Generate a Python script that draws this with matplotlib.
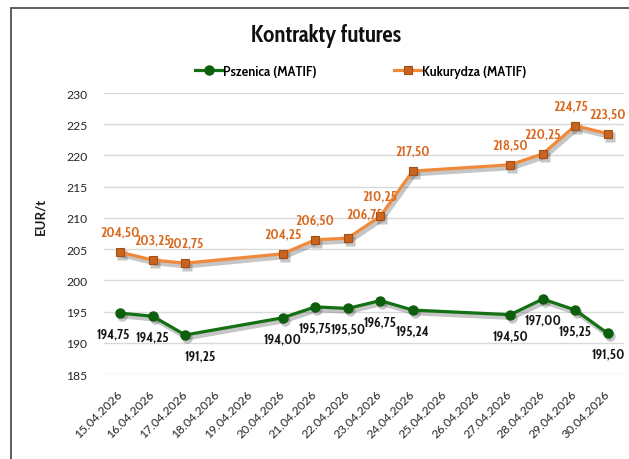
import datetime as dt
import matplotlib
matplotlib.use("Agg")
import matplotlib.pyplot as plt
import matplotlib.dates as mdates
import matplotlib.transforms as mtrans
from matplotlib.patches import Rectangle

plt.rcParams['font.family'] = ['Lato', 'DejaVu Sans']
COND = ['Cabin Condensed', 'Lato', 'DejaVu Sans']

title = "Kontrakty futures"
ylabel = "EUR/t"
series_names = ["Pszenica (MATIF)", "Kukurydza (MATIF)"]
dates = ["15.04.2026", "16.04.2026", "17.04.2026", "20.04.2026", "21.04.2026",
         "22.04.2026", "23.04.2026", "24.04.2026", "27.04.2026", "28.04.2026",
         "29.04.2026", "30.04.2026"]
pszenica = [194.75, 194.25, 191.25, 194.00, 195.75, 195.50, 196.75, 195.24,
            194.50, 197.00, 195.25, 191.50]
kukurydza = [204.50, 203.25, 202.75, 204.25, 206.50, 206.75, 210.25, 217.50,
             218.50, 220.25, 224.75, 223.50]
axis_start = "15.04.2026"
axis_end = "30.04.2026"
y_min, y_max, y_step = 185, 230, 5

def parse(s):
    return dt.datetime.strptime(s, "%d.%m.%Y")

x = [parse(d) for d in dates]
x0, x1 = parse(axis_start), parse(axis_end)

W, H = 629, 460
fig = plt.figure(figsize=(W / 100, H / 100), dpi=100)
ax = fig.add_axes([104 / W, 1 - 375 / H, (624 - 104) / W, (375 - 94) / H])

green = "#137113"
green_m = "#0d5e0d"
orange = "#f08a3a"
orange_m = "#c8641f"

sh = ax.transData + mtrans.ScaledTranslation(2 / 100, -3 / 100, fig.dpi_scale_trans)
for ys, mk in ((pszenica, "o"), (kukurydza, "s")):
    ax.plot(x, ys, color="#444444", alpha=0.3, lw=3.4, marker=mk, ms=7.5,
            mec="none", transform=sh, zorder=2)

l1, = ax.plot(x, pszenica, color=green, lw=2.3, marker="o", ms=6.5,
              mfc=green_m, mec=green_m, label=series_names[0], zorder=3)
l2, = ax.plot(x, kukurydza, color=orange, lw=2.3, marker="s", ms=6.3,
              mfc=orange_m, mec="#a34f14", mew=0.8, label=series_names[1], zorder=3)

px2pt = 72 / 100
p_dx = {0: -7, 2: 15}
for i, (xi, v) in enumerate(zip(x, pszenica)):
    ax.annotate(f"{v:.2f}".replace(".", ","), (xi, v),
                xytext=(p_dx.get(i, 0) * px2pt, -21 * px2pt), textcoords="offset points",
                ha="center", va="center", fontsize=10, fontweight="bold",
                family=COND, color="#141414", zorder=5)
k_dx = {5: 17, 10: -5}
k_dy = {5: 24}
for i, (xi, v) in enumerate(zip(x, kukurydza)):
    ax.annotate(f"{v:.2f}".replace(".", ","), (xi, v),
                xytext=(k_dx.get(i, 0) * px2pt, k_dy.get(i, 20) * px2pt),
                textcoords="offset points",
                ha="center", va="center", fontsize=10, fontweight="bold",
                family=COND, color="#d9691f", zorder=5)

ax.set_ylim(y_min, y_max)
ax.set_yticks(range(y_min, y_max + 1, y_step))
ax.set_xlim(x0 - dt.timedelta(hours=12), x1 + dt.timedelta(hours=12))
ax.xaxis.set_major_locator(mdates.DayLocator())
ax.xaxis.set_major_formatter(mdates.DateFormatter("%d.%m.%Y"))
ax.grid(axis="y", color="#d9d9d9", lw=1)
ax.set_axisbelow(True)
for s in ax.spines.values():
    s.set_visible(False)
ax.tick_params(axis="both", length=0, labelsize=8.7, colors="#262626")
ax.tick_params(axis="y", pad=12)
ax.tick_params(axis="x", pad=13)
for lab in ax.get_xticklabels():
    lab.set_rotation(45)
    lab.set_ha("right")
    lab.set_va("center")
    lab.set_rotation_mode("anchor")

fig.text(40 / W, 1 - 216 / H, ylabel, rotation=90, ha="center", va="center",
         fontsize=9.5, fontweight="bold", color="#1a1a1a")
fig.text(326 / W, 1 - 36 / H, title, ha="center", va="center", family=COND,
         fontsize=16.5, fontweight="bold", color="#111111")

fig.legend(handles=[l1, l2], loc="center", bbox_to_anchor=(361 / W, 1 - 72 / H),
           ncol=2, frameon=False,
           prop={'family': COND, 'size': 10.5, 'weight': 'semibold'},
           columnspacing=5.3, handlelength=1.85, handletextpad=0.08)

fig.patches.append(Rectangle((11 / W, -0.1), 1.2, 1 - 9 / H + 0.1,
                             transform=fig.transFigure, fill=False,
                             edgecolor="#505050", lw=1.3))

fig.savefig("out.png", dpi=100)
